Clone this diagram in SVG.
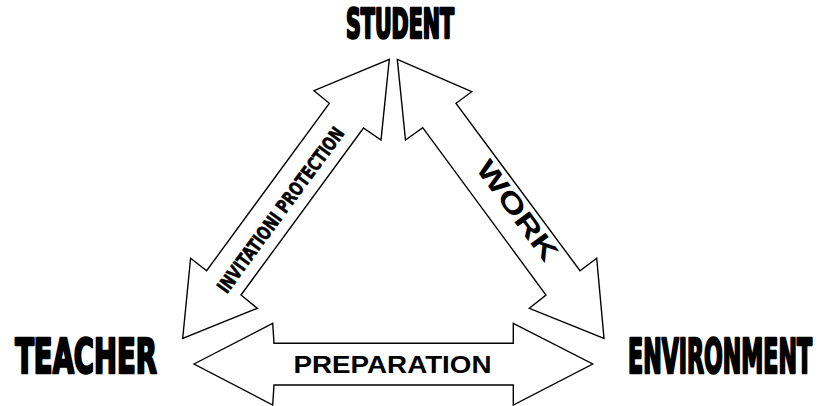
<svg xmlns="http://www.w3.org/2000/svg" width="825" height="406" viewBox="0 0 825 406">
  <style>
    .arrow { fill: #ffffff; stroke: #000000; stroke-width: 1.4; stroke-linejoin: miter; }
    .node { font-family: "Liberation Sans Narrow", "DejaVu Sans Condensed", "Liberation Sans", sans-serif; font-weight: bold; fill: #000; stroke: #000; stroke-width: 2.6; stroke-linejoin: round; }
    .lbl { font-family: "Liberation Sans", Arial, sans-serif; font-weight: bold; fill: #000; }
    .lbl-narrow { font-family: "Liberation Sans Narrow", "DejaVu Sans Condensed", "Liberation Sans", sans-serif; font-weight: bold; fill: #000; stroke: #000; stroke-width: 0.6; }
  </style>
  <rect width="825" height="406" fill="#ffffff"/>

  <g id="connectors">
    <!-- teacher <-> student -->
    <g id="arrow-invitation">
      <polygon class="arrow" points="389.3,59.3 381,140 363.5,128 241,295 257.3,308.3 182.7,338.3 190.6,258.3 206.6,270.7 329.3,103.3 314,90.7"/>
      <text class="lbl-narrow" font-size="19" text-anchor="middle" textLength="200" lengthAdjust="spacingAndGlyphs" transform="translate(286,214) rotate(-53.7)">INVITATIONI PROTECTION</text>
    </g>
    <!-- student <-> environment -->
    <g id="arrow-work">
      <polygon class="arrow" points="397.3,59.3 471.7,91.7 456,103.3 580,270.7 596.7,258.3 604,338.3 529.3,308.3 546,295 422.7,127.7 405.5,140"/>
      <text class="lbl" font-size="27" text-anchor="middle" textLength="118" lengthAdjust="spacingAndGlyphs" transform="translate(510,216) rotate(53.7)">WORK</text>
    </g>
    <!-- teacher <-> environment -->
    <g id="arrow-preparation">
      <polygon class="arrow" points="194,364 272.7,323.3 274,343.3 513.3,343.3 513.3,323.3 592.7,364 513.3,405 513.3,385 274,385 272.7,405"/>
      <text class="lbl" font-size="23" x="392.5" y="373.3" text-anchor="middle" textLength="198" lengthAdjust="spacingAndGlyphs">PREPARATION</text>
    </g>
  </g>

  <!-- node titles: heavy condensed caps, squeezed horizontally -->
  <g id="student">
    <text class="node" font-size="40" text-anchor="middle" textLength="166" lengthAdjust="spacingAndGlyphs" transform="translate(400,38) scale(0.65,1)">STUDENT</text>
  </g>
  <g id="teacher">
    <text class="node" font-size="48" text-anchor="middle" textLength="218" lengthAdjust="spacingAndGlyphs" transform="translate(86,373) scale(0.65,1)">TEACHER</text>
  </g>
  <g id="environment">
    <text class="node" font-size="48" text-anchor="middle" textLength="283" lengthAdjust="spacingAndGlyphs" transform="translate(720,373) scale(0.65,1)">ENVIRONMENT</text>
  </g>
</svg>
